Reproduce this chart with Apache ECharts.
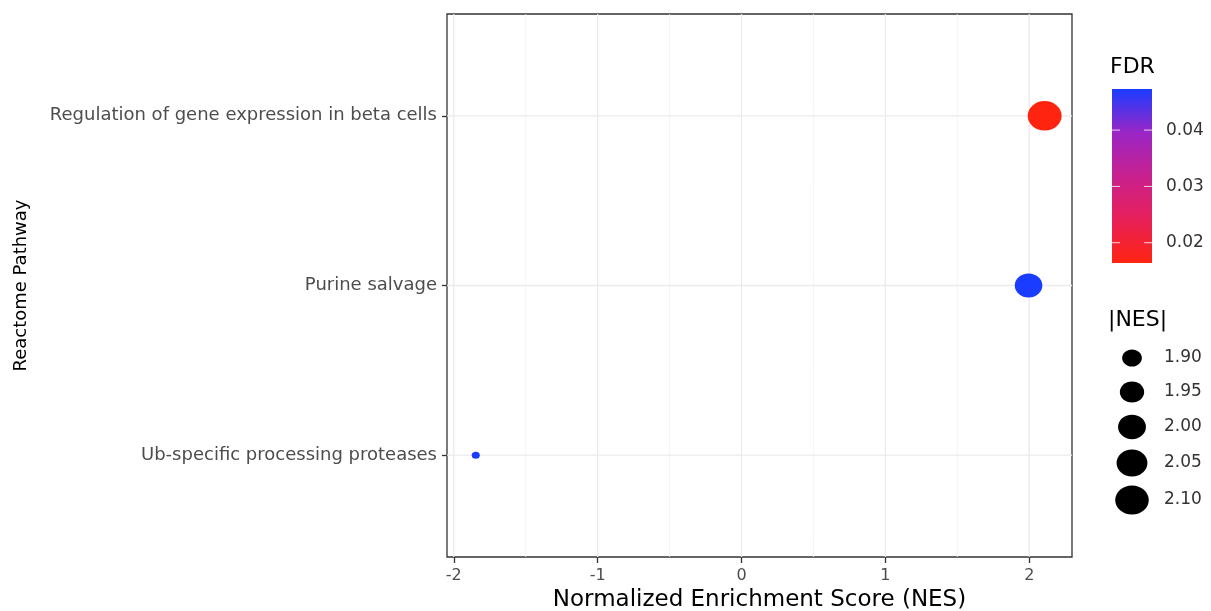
<!DOCTYPE html>
<html><head><meta charset="utf-8">
<script src="https://cdn.jsdelivr.net/npm/echarts@6/dist/echarts.min.js"></script>
<style>html,body{margin:0;padding:0;background:#fff}#c{width:1211px;height:611px}</style>
</head><body><div id="c"></div>
<script>
// ---- data ----
const pathways = ['Ub-specific processing proteases', 'Purine salvage', 'Regulation of gene expression in beta cells'];
const nesValues = [-1.847, 1.995, 2.107];
const fdrValues = [0.0471, 0.0473, 0.0164];
const xTicks = [-2, -1, 0, 1, 2];
const xMinorTicks = [-1.5, -0.5, 0.5, 1.5];
const fdrTicks = [0.02, 0.03, 0.04];
const sizeBreaks = [1.90, 1.95, 2.00, 2.05, 2.10];
const fdrRange = [0.0164, 0.0473];
const xRange = [-2.047, 2.297];
const yRange = [0.4, 3.6];

const FONT = '"DejaVu Sans", "Liberation Sans", Arial, sans-serif';
const gradColors = ['#FF2410', '#E8205A', '#C8208E', '#9A26C6', '#1A3CFF']; // low FDR -> high FDR

const absVals = nesValues.map(Math.abs);
const absMin = Math.min(...absVals), absMax = Math.max(...absVals);
function diam(v) {
  const t = Math.max(0, (Math.abs(v) - absMin) / (absMax - absMin));
  return 7 + 22.5 * Math.sqrt(t);
}
const ASPECT = 1.15;

const series = [];
// grid lines
xMinorTicks.forEach(x => series.push({
  type: 'line', data: [[x, yRange[0]], [x, yRange[1]]], symbol: 'none', silent: true, z: 1,
  lineStyle: { color: '#F2F2F2', width: 0.8 }, animation: false
}));
xTicks.forEach(x => series.push({
  type: 'line', data: [[x, yRange[0]], [x, yRange[1]]], symbol: 'none', silent: true, z: 1,
  lineStyle: { color: '#EBEBEB', width: 1.3 }, animation: false
}));
pathways.forEach((p, i) => series.push({
  type: 'line', data: [[xRange[0], i + 1], [xRange[1], i + 1]], symbol: 'none', silent: true, z: 1,
  lineStyle: { color: '#EBEBEB', width: 1.3 }, animation: false
}));
const scatterIndex = series.length;
series.push({
  type: 'scatter', z: 5, animation: false,
  data: pathways.map((p, i) => [nesValues[i], i + 1, fdrValues[i], p]),
  symbolSize: val => { const h = diam(val[0]); return [h * ASPECT, h]; },
  itemStyle: { opacity: 1 }
});

// colorbar + size legend graphics
const cb = { x: 1112, y: 89, w: 40, h: 174 };
const graphic = [];
graphic.push({ type: 'text', left: 1110, top: 56, style: { text: 'FDR', font: '22px ' + FONT, fill: '#000' } });
graphic.push({
  type: 'rect', shape: { x: cb.x, y: cb.y, width: cb.w, height: cb.h },
  style: { fill: new echarts.graphic.LinearGradient(0, 1, 0, 0,
    gradColors.map((c, i) => ({ offset: i / (gradColors.length - 1), color: c }))) }
});
fdrTicks.forEach(v => {
  const y = cb.y + cb.h * (1 - (v - fdrRange[0]) / (fdrRange[1] - fdrRange[0]));
  graphic.push({ type: 'line', shape: { x1: cb.x, y1: y, x2: cb.x + 8, y2: y }, style: { stroke: '#fff', lineWidth: 1, opacity: 0.8 } });
  graphic.push({ type: 'line', shape: { x1: cb.x + cb.w - 8, y1: y, x2: cb.x + cb.w, y2: y }, style: { stroke: '#fff', lineWidth: 1, opacity: 0.8 } });
  graphic.push({ type: 'text', x: 1166, y: y, style: { text: v.toFixed(2), font: '17px ' + FONT, fill: '#333', verticalAlign: 'middle' } });
});
graphic.push({ type: 'text', left: 1108, top: 309, style: { text: '|NES|', font: '22px ' + FONT, fill: '#000' } });
const legY = [358, 392, 427, 463, 500];
sizeBreaks.forEach((v, i) => {
  const h = diam(v);
  graphic.push({ type: 'ellipse', shape: { cx: 1132, cy: legY[i], rx: h * ASPECT / 2, ry: h / 2 }, style: { fill: '#000' } });
  graphic.push({ type: 'text', x: 1164, y: legY[i], style: { text: v.toFixed(2), font: '17px ' + FONT, fill: '#333', verticalAlign: 'middle' } });
});

const chart = echarts.init(document.getElementById('c'), null, { renderer: 'canvas' });
chart.setOption({
  animation: false,
  backgroundColor: '#fff',
  textStyle: { fontFamily: FONT },
  grid: { left: 447, right: 139, top: 14, bottom: 54, show: true, borderColor: '#333', borderWidth: 1.3,
          backgroundColor: 'transparent', outerBoundsMode: 'none', containLabel: false },
  xAxis: {
    type: 'value', min: xRange[0], max: xRange[1],
    axisLine: { show: false, onZero: false },
    axisTick: { show: true, customValues: xTicks, length: 6, lineStyle: { color: '#333', width: 1.3 } },
    axisLabel: { customValues: xTicks, formatter: v => String(Math.round(v)), color: '#4D4D4D', fontSize: 16, margin: 11, fontFamily: FONT },
    splitLine: { show: false },
    name: 'Normalized Enrichment Score (NES)', nameLocation: 'middle', nameGap: 32,
    nameTextStyle: { fontSize: 23, color: '#000', fontFamily: FONT }
  },
  yAxis: {
    type: 'value', min: yRange[0], max: yRange[1],
    axisLine: { show: false, onZero: false },
    axisTick: { show: true, customValues: [1, 2, 3], length: 5, lineStyle: { color: '#333', width: 1.3 } },
    axisLabel: { customValues: [1, 2, 3], formatter: v => pathways[Math.round(v) - 1] || '', color: '#4D4D4D', fontSize: 18, margin: 10, fontFamily: FONT },
    splitLine: { show: false },
    name: 'Reactome Pathway', nameLocation: 'middle', nameRotate: 90, nameGap: 417,
    nameTextStyle: { fontSize: 18, color: '#000', fontFamily: FONT }
  },
  visualMap: {
    show: false, type: 'continuous', seriesIndex: scatterIndex, dimension: 2,
    min: fdrRange[0], max: fdrRange[1], inRange: { color: gradColors }
  },
  series: series,
  graphic: graphic
});
</script></body></html>
